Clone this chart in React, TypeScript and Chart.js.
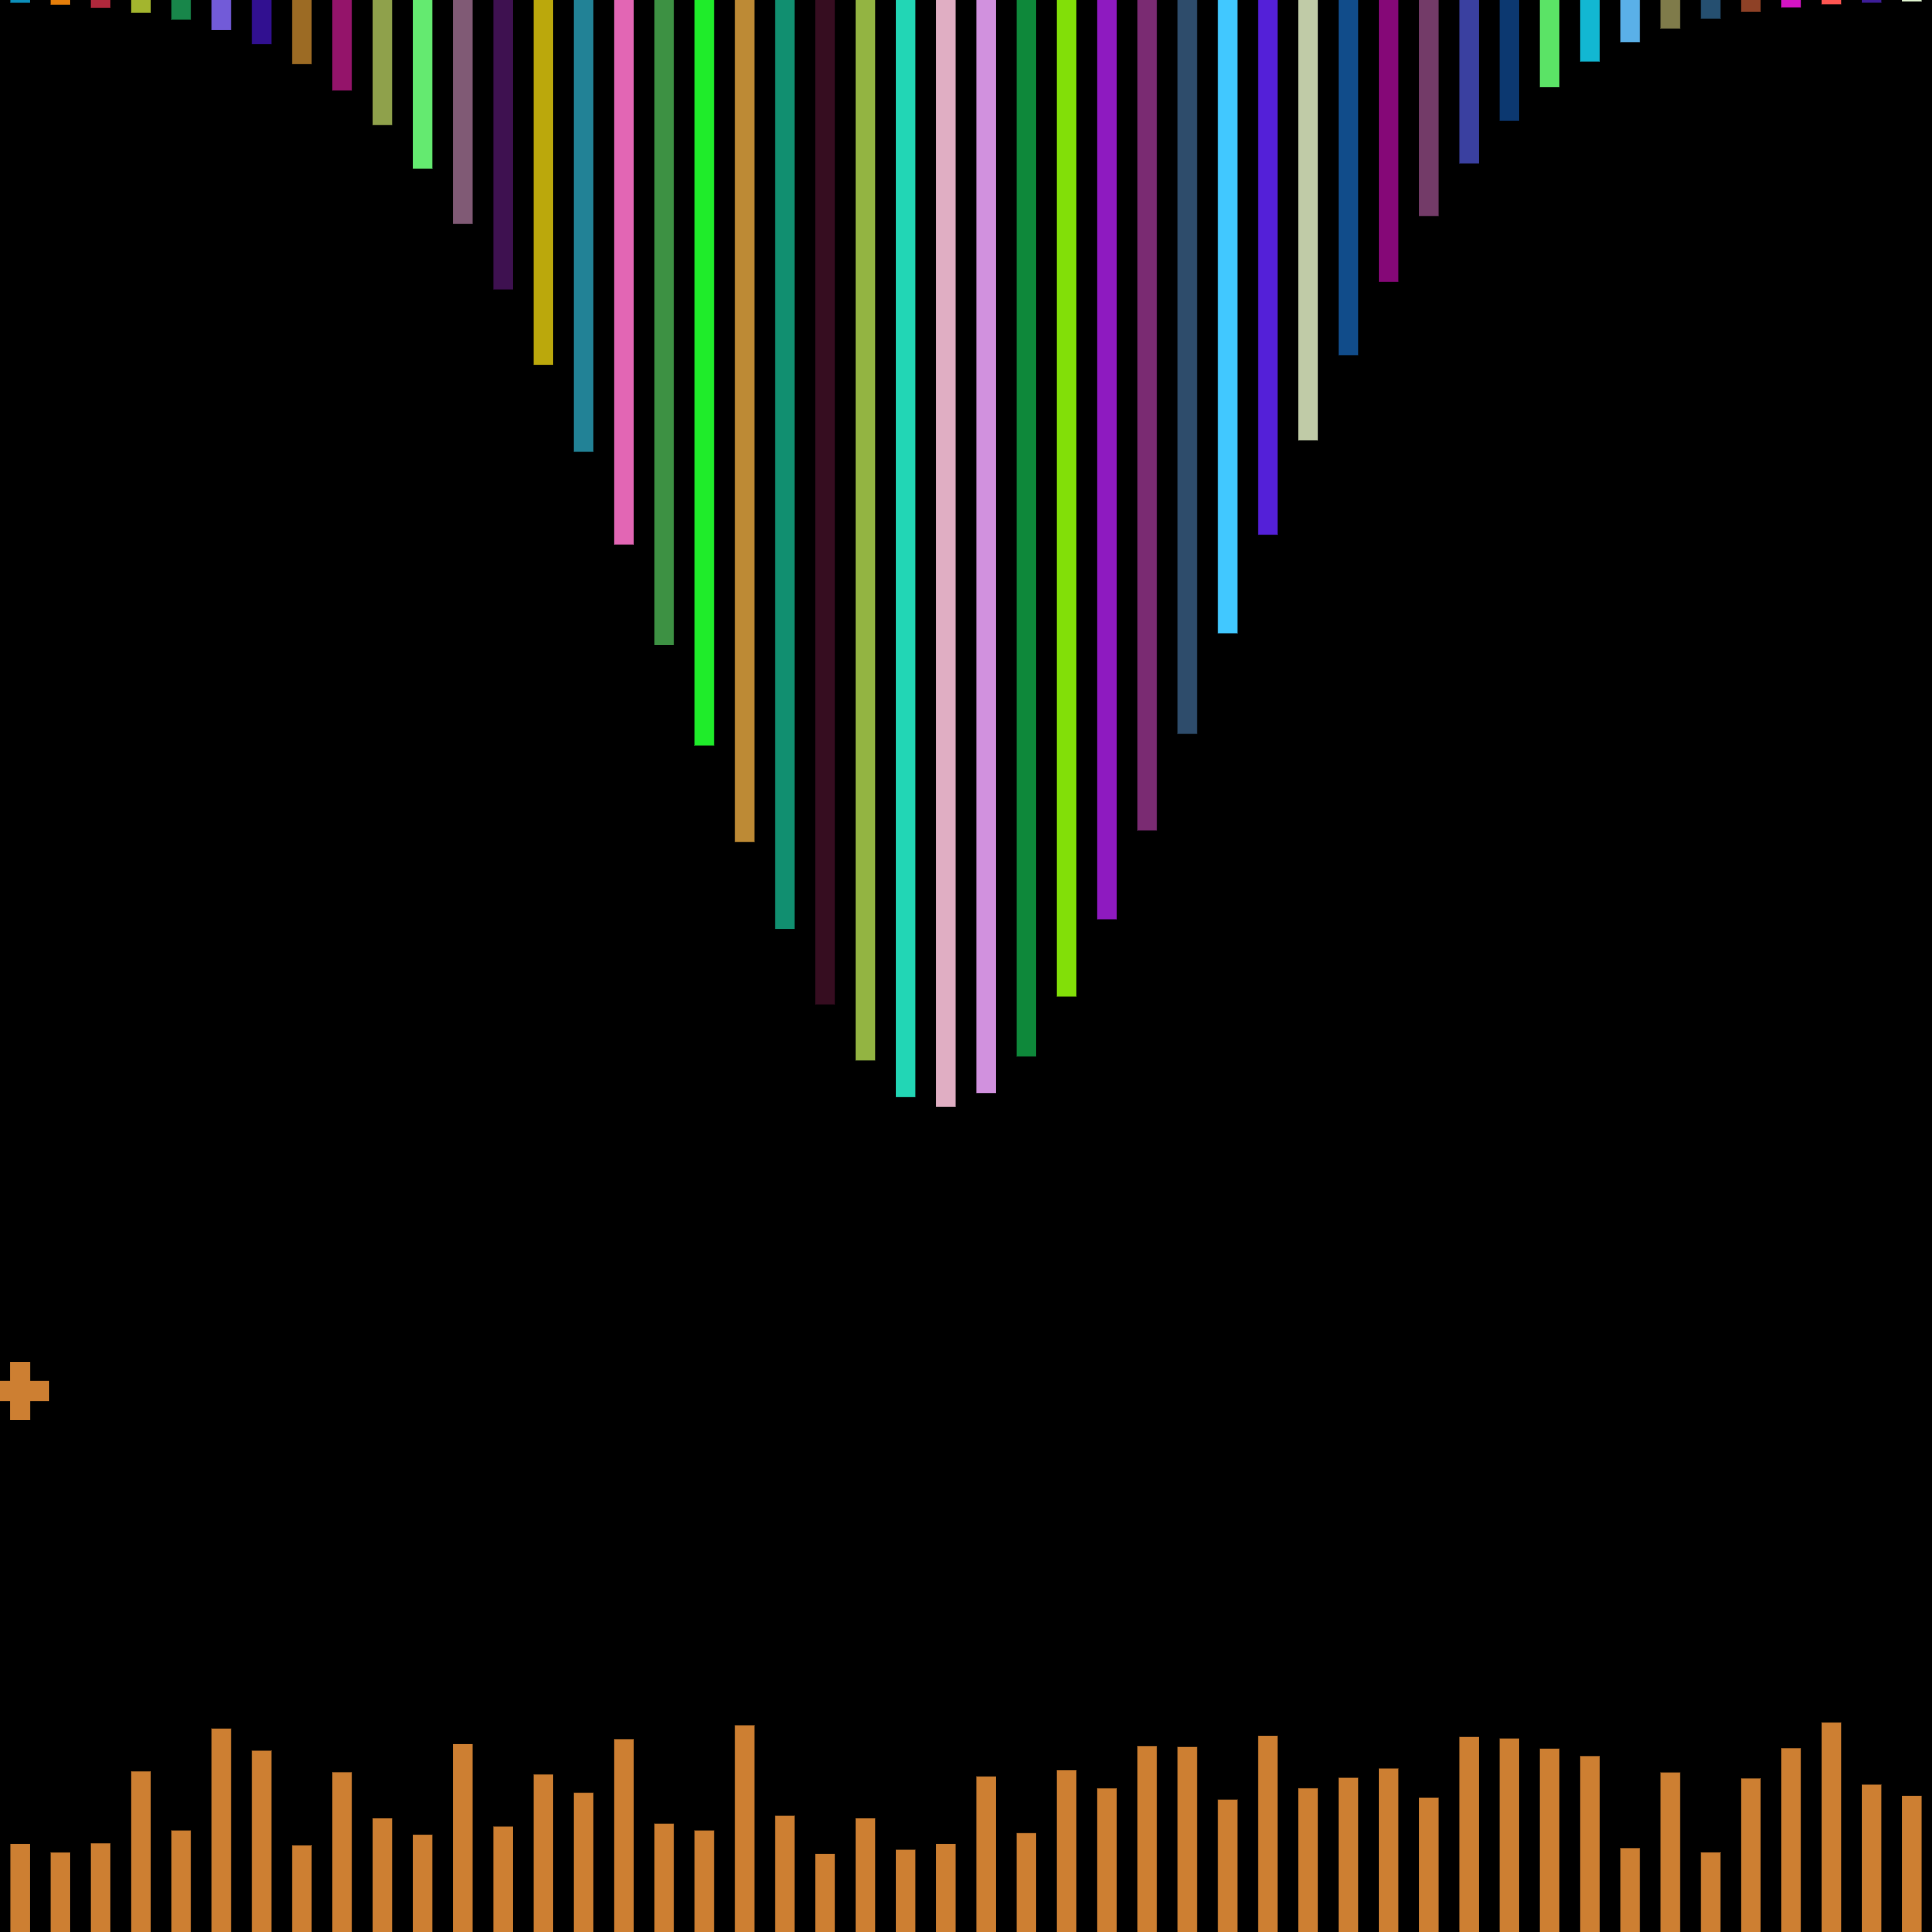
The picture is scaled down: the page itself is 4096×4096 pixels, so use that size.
import React, { useEffect, useRef } from "react";
import { Chart, registerables } from "chart.js";

Chart.register(...registerables);

const categories: string[] = Array.from({ length: 48 }, (_, i) => `C${i + 1}`);

const topValues: number[] = [
  0.16, 0.26, 0.42, 0.68, 1.03, 1.56, 2.3, 3.33, 4.7, 6.49,
  8.74, 11.6, 15.0, 18.9, 23.4, 28.2, 33.4, 38.6, 43.6, 48.1,
  52.0, 54.9, 56.8, 57.3, 56.6, 54.7, 51.6, 47.6, 43.0, 38.0,
  32.8, 27.7, 22.8, 18.4, 14.6, 11.2, 8.47, 6.27, 4.53, 3.2,
  2.2, 1.49, 0.98, 0.63, 0.4, 0.24, 0.15, 0.09,
];

const topColors: string[] = [
  "#0c8fba", "#e57e0a", "#b0283c", "#a3b52e", "#18864a", "#725bd8", "#311090", "#9c6b24",
  "#94146a", "#8fa14b", "#64ea70", "#805a75", "#3e1150", "#bba80c", "#228296", "#e266b4",
  "#3d9143", "#1fec2a", "#bd8a35", "#118f70", "#360d20", "#93b442", "#22d6b5", "#e0aec3",
  "#d191de", "#0e883a", "#82df08", "#8e1ac0", "#7a2b72", "#2e4c6b", "#41c8ff", "#5420d8",
  "#c0cba7", "#114c8a", "#850877", "#733b68", "#3a40a0", "#0c3870", "#5be366", "#12b7d2",
  "#5ab0e8", "#7f7b4a", "#254f70", "#8e4126", "#d414c4", "#fe5551", "#3d1d98", "#e0f5d0",
];

const bottomValues: number[] = [
  4.57, 4.13, 4.61, 8.33, 5.27, 10.54, 9.4, 4.49, 8.28, 5.9,
  5.05, 9.75, 5.47, 8.17, 7.22, 9.99, 5.62, 5.27, 10.71, 6.03,
  4.06, 5.9, 4.27, 4.57, 8.06, 5.14, 8.39, 7.45, 9.64, 9.6,
  6.86, 10.17, 7.46, 8.0, 8.48, 6.97, 10.12, 10.03, 9.5, 9.12,
  4.35, 8.27, 4.14, 7.96, 9.52, 10.86, 7.64, 7.06,
];

const bottomColor = "#cd7f32";

const markerValues: (number | null)[] = [28.0, ...Array.from({ length: 47 }, () => null)];

function darker(hex: string, f = 0.55): string {
  const n = parseInt(hex.slice(1), 16);
  const r = Math.round(((n >> 16) & 255) * f);
  const g = Math.round(((n >> 8) & 255) * f);
  const b = Math.round((n & 255) * f);
  return `rgb(${r},${g},${b})`;
}

export default function App() {
  const canvasRef = useRef<HTMLCanvasElement | null>(null);

  useEffect(() => {
    const canvas = canvasRef.current;
    if (!canvas) return;
    const chart = new Chart(canvas, {
      type: "bar",
      data: {
        labels: categories,
        datasets: [
          {
            type: "bar",
            label: "top",
            data: topValues,
            backgroundColor: topColors,
            borderColor: topColors.map((c) => darker(c)),
            borderWidth: 1,
            yAxisID: "yTop",
            grouped: false,
            barPercentage: 0.5,
            categoryPercentage: 1,
          },
          {
            type: "bar",
            label: "bottom",
            data: bottomValues,
            backgroundColor: bottomColor,
            borderColor: darker(bottomColor),
            borderWidth: 1,
            yAxisID: "yBottom",
            grouped: false,
            barPercentage: 0.5,
            categoryPercentage: 1,
          },
          {
            type: "line",
            label: "marker",
            data: markerValues,
            yAxisID: "yBottom",
            showLine: false,
            pointStyle: "cross",
            pointRadius: 61.5,
            pointBorderWidth: 43,
            pointBorderColor: bottomColor,
            pointBackgroundColor: bottomColor,
            borderColor: bottomColor,
            backgroundColor: bottomColor,
          } as any,
        ],
      },
      options: {
        responsive: false,
        animation: false,
        devicePixelRatio: 1,
        layout: { padding: 0, autoPadding: false },
        plugins: { legend: { display: false }, tooltip: { enabled: false } },
        scales: {
          x: { type: "category", display: false, offset: true, grid: { display: false } },
          yTop: { type: "linear", display: false, reverse: true, min: 0, max: 100 },
          yBottom: { type: "linear", display: false, min: 0, max: 100 },
        },
      },
    });
    return () => chart.destroy();
  }, []);

  return (
    <div style={{ position: "fixed", left: 0, top: 0, width: 4096, height: 4096, background: "#000" }}>
      <canvas ref={canvasRef} width={4096} height={4096} style={{ display: "block", background: "#000" }} />
    </div>
  );
}
